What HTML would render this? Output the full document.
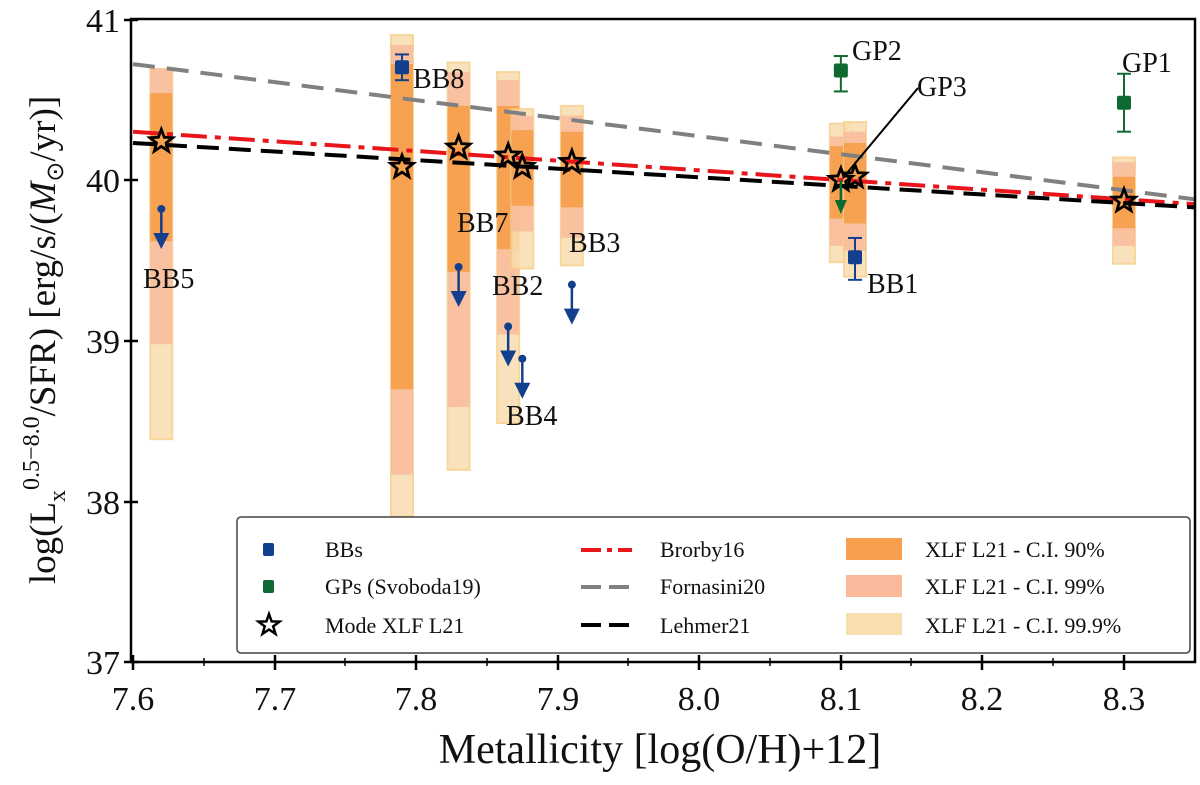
<!DOCTYPE html>
<html><head><meta charset="utf-8"><style>
html,body{margin:0;padding:0;background:#fff;}
svg text{font-family:"Liberation Serif",serif;fill:#111;}
</style></head><body>
<svg id="chart" width="1200" height="780" xmlns="http://www.w3.org/2000/svg">
<g id="plot"></g>
</svg>
<script>
const categories=["BB5","BB8","BB7","BB2","BB4","BB3","GP3","BB1","GP1"];
const metallicity=[7.62,7.79,7.83,7.865,7.875,7.91,8.10,8.11,8.30];
const ci999Low=[38.39,37.91,38.20,38.49,39.45,39.47,39.49,39.40,39.48];
const ci999High=[40.69,40.90,40.73,40.67,40.44,40.46,40.35,40.36,40.14];
const ci99Low=[38.98,38.17,38.59,39.04,39.68,39.64,39.59,39.56,39.59];
const ci99High=[40.69,40.84,40.67,40.62,40.40,40.40,40.27,40.30,40.11];
const ci90Low=[39.62,38.70,39.43,39.57,39.84,39.83,39.76,39.73,39.70];
const ci90High=[40.54,40.72,40.46,40.46,40.31,40.30,40.21,40.23,40.02];
const modeValues=[40.24,40.08,40.20,40.15,40.08,40.11,40.00,40.02,39.87];
const bbDetX=[7.79,8.11];const bbDetY=[40.70,39.52];const bbDetLo=[40.62,39.38];const bbDetHi=[40.78,39.64];
const gpX=[8.10,8.30];const gpY=[40.68,40.48];const gpLo=[40.55,40.30];const gpHi=[40.77,40.66];
const ulX=[7.62,7.83,7.865,7.875,7.91];const ulY=[39.82,39.46,39.09,38.89,39.35];
const gpUlX=[8.10];const gpUlY=[40.0];
const lineX=[7.6,8.35];
const brorbyY=[40.30,39.85];const fornasiniY=[40.72,39.88];const lehmerY=[40.23,39.83];
const xTicks=[7.6,7.7,7.8,7.9,8.0,8.1,8.2,8.3];
const xTickLabels=["7.6","7.7","7.8","7.9","8.0","8.1","8.2","8.3"];
const yTicks=[37,38,39,40,41];

const X=v=>133+(v-7.6)*1415.7;
const Y=v=>180-(v-40)*161;
const NS="http://www.w3.org/2000/svg";
const plot=document.getElementById('plot');
function mk(tag,attrs,parent){const e=document.createElementNS(NS,tag);for(const k in attrs)e.setAttribute(k,attrs[k]);(parent||plot).appendChild(e);return e;}

const bw=22;
for(let i=0;i<categories.length;i++){
 const x=X(metallicity[i])-bw/2;
 let r=mk('rect',{x:x,y:Y(ci999High[i]),width:bw,height:Y(ci999Low[i])-Y(ci999High[i]),fill:'#f9deb0',stroke:'#f7cf8a','stroke-width':2,opacity:0.85});
 
 
 r=mk('rect',{x:x,y:Y(ci99High[i]),width:bw,height:Y(ci99Low[i])-Y(ci99High[i]),fill:'#f9b99a',opacity:0.8});
 
 
 r=mk('rect',{x:x,y:Y(ci90High[i]),width:bw,height:Y(ci90Low[i])-Y(ci90High[i]),fill:'#f6a04d',opacity:0.95});
 
 
}
function ln(ys,color,dash,name){const l=mk('line',{x1:X(lineX[0]),y1:Y(ys[0]),x2:X(lineX[1]),y2:Y(ys[1]),stroke:color,'stroke-width':4,'stroke-dasharray':dash});
 
 }
ln(fornasiniY,'#808080','22 12','fornasini20-line');
ln(brorbyY,'#e8161b','26 8 6 8','brorby16-line');
ln(lehmerY,'#000','22 10','lehmer21-line');

function starPath(cx,cy,r){let d='';for(let k=0;k<10;k++){const a=-Math.PI/2+k*Math.PI/5;const rr=k%2?r*0.42:r;d+=(k?'L':'M')+(cx+rr*Math.cos(a)).toFixed(1)+' '+(cy+rr*Math.sin(a)).toFixed(1);}return d+'Z';}
for(let i=0;i<categories.length;i++){
 const s=mk('path',{d:starPath(X(metallicity[i]),Y(modeValues[i]),12),fill:'none',stroke:'#000','stroke-width':2.8,'stroke-linejoin':'miter'});
 
 
}
function errPoint(x,y,lo,hi,color,name){
 const g=mk('g',{});
 
 
 const cx=X(x);
 mk('line',{x1:cx,y1:Y(hi),x2:cx,y2:Y(lo),stroke:color,'stroke-width':2},g);
 mk('line',{x1:cx-7,y1:Y(hi),x2:cx+7,y2:Y(hi),stroke:color,'stroke-width':2},g);
 mk('line',{x1:cx-7,y1:Y(lo),x2:cx+7,y2:Y(lo),stroke:color,'stroke-width':2},g);
 mk('rect',{x:cx-7,y:Y(y)-7,width:14,height:14,rx:2,fill:color},g);
}
for(let i=0;i<bbDetX.length;i++)errPoint(bbDetX[i],bbDetY[i],bbDetLo[i],bbDetHi[i],'#133f8f','bb-point-'+i);
for(let i=0;i<gpX.length;i++)errPoint(gpX[i],gpY[i],gpLo[i],gpHi[i],'#0e6a32','gp-point-'+i);
function arrow(x,y,color,name){
 const g=mk('g',{});
 
 
 const cx=X(x),cy=Y(y);
 mk('circle',{cx:cx,cy:cy,r:4,fill:color},g);
 mk('line',{x1:cx,y1:cy,x2:cx,y2:cy+26,stroke:color,'stroke-width':2.5},g);
 mk('path',{d:`M${cx-8} ${cy+24}L${cx+8} ${cy+24}L${cx} ${cy+40}Z`,fill:color},g);
}
for(let i=0;i<ulX.length;i++)arrow(ulX[i],ulY[i],'#133f8f','bb-upper-limit-'+i);
for(let i=0;i<gpUlX.length;i++){
 const g=mk('g',{});
 
 
 const cx=X(gpUlX[i]),cy=Y(gpUlY[i]);
 mk('line',{x1:cx,y1:cy,x2:cx,y2:cy+22,stroke:'#0e6a32','stroke-width':2.5},g);
 mk('path',{d:`M${cx-6} ${cy+20}L${cx+6} ${cy+20}L${cx} ${cy+34}Z`,fill:'#0e6a32'},g);
}
const gl=mk('line',{x1:X(8.10)+2,y1:Y(40.0)-2,x2:918,y2:88,stroke:'#000','stroke-width':2});



const labelText=["BB8","BB5","BB7","BB2","BB4","BB3","GP2","GP3","GP1","BB1"];
const labelPos=[[413,88],[143,288],[457,232],[492,295],[506,425],[569,252],[852,60],[917,96],[1122,72],[867,293]];
for(let i=0;i<labelText.length;i++){
 const t=mk('text',{x:labelPos[i][0],y:labelPos[i][1],'font-size':28});
 t.textContent=labelText[i];
 
 
}
</script>
<svg width="1200" height="780" style="position:absolute;left:0;top:0" xmlns="http://www.w3.org/2000/svg">
 <rect x="131" y="19" width="1064" height="643" fill="none" stroke="#000" stroke-width="2.5"/>
 <g stroke="#000" stroke-width="2.5">
  <line x1="124" y1="20" x2="138" y2="20"/><line x1="124" y1="180" x2="138" y2="180"/><line x1="124" y1="341" x2="138" y2="341"/><line x1="124" y1="502" x2="138" y2="502"/><line x1="124" y1="662" x2="138" y2="662"/>
 </g>
 <g font-size="34" text-anchor="end">
  <text x="120" y="32">41</text><text x="120" y="192">40</text><text x="120" y="353">39</text><text x="120" y="514">38</text><text x="120" y="674">37</text>
 </g>
 <g stroke="#000">
  <line x1="133" y1="655" x2="133" y2="670" stroke-width="2.5"/><line x1="275" y1="655" x2="275" y2="670" stroke-width="2.5"/><line x1="416" y1="655" x2="416" y2="670" stroke-width="2.5"/><line x1="558" y1="655" x2="558" y2="670" stroke-width="2.5"/><line x1="699" y1="655" x2="699" y2="670" stroke-width="2.5"/><line x1="841" y1="655" x2="841" y2="670" stroke-width="2.5"/><line x1="982" y1="655" x2="982" y2="670" stroke-width="2.5"/><line x1="1124" y1="655" x2="1124" y2="670" stroke-width="2.5"/>
  <line x1="204" y1="658" x2="204" y2="666" stroke-width="1.5"/><line x1="345" y1="658" x2="345" y2="666" stroke-width="1.5"/><line x1="487" y1="658" x2="487" y2="666" stroke-width="1.5"/><line x1="628" y1="658" x2="628" y2="666" stroke-width="1.5"/><line x1="770" y1="658" x2="770" y2="666" stroke-width="1.5"/><line x1="911" y1="658" x2="911" y2="666" stroke-width="1.5"/><line x1="1053" y1="658" x2="1053" y2="666" stroke-width="1.5"/>
 </g>
 <g font-size="34" text-anchor="middle">
  <text x="133" y="710">7.6</text><text x="275" y="710">7.7</text><text x="416" y="710">7.8</text><text x="558" y="710">7.9</text><text x="699" y="710">8.0</text><text x="841" y="710">8.1</text><text x="982" y="710">8.2</text><text x="1124" y="710">8.3</text>
 </g>
 <text x="660" y="763" font-size="42" text-anchor="middle">Metallicity [log(O/H)+12]</text>
 <text transform="translate(55,340) rotate(-90)" font-size="37" text-anchor="middle">log(L<tspan font-size="24" dy="10">x</tspan><tspan font-size="24" dy="-26">0.5−8.0</tspan><tspan dy="16">/SFR) [erg/s/(</tspan><tspan font-style="italic">M</tspan><tspan font-size="24" dy="8">⊙</tspan><tspan dy="-8">/yr)]</tspan></text>
 <g font-size="22">
  <rect x="237" y="517" width="953" height="136" rx="4" fill="#fff" fill-opacity="0.9" stroke="#444" stroke-width="1.5"/>
  <rect x="263" y="543" width="11" height="13" rx="2" fill="#133f8f"/>
  <text x="325" y="557">BBs</text>
  <rect x="263" y="580" width="11" height="13" rx="2" fill="#0e6a32"/>
  <text x="325" y="594">GPs (Svoboda19)</text>
  <path d="M269 614L271.6 621.4L279.5 621.6L273.2 626.4L275.5 633.9L269 629.5L262.5 633.9L264.8 626.4L258.5 621.6L266.4 621.4Z" fill="none" stroke="#000" stroke-width="2.5"/>
  <text x="325" y="633">Mode XLF L21</text>
  <line x1="581" y1="550" x2="632" y2="550" stroke="#e8161b" stroke-width="4" stroke-dasharray="20 6 5 6"/>
  <text x="660" y="557">Brorby16</text>
  <line x1="581" y1="587" x2="632" y2="587" stroke="#808080" stroke-width="4" stroke-dasharray="20 8"/>
  <text x="660" y="594">Fornasini20</text>
  <line x1="581" y1="625" x2="632" y2="625" stroke="#000" stroke-width="4" stroke-dasharray="20 8"/>
  <text x="660" y="633">Lehmer21</text>
  <rect x="846" y="538" width="56" height="22" fill="#f6a04d"/>
  <text x="925" y="557">XLF L21 - C.I. 90%</text>
  <rect x="846" y="575" width="56" height="22" fill="#f9b99a"/>
  <text x="925" y="594">XLF L21 - C.I. 99%</text>
  <rect x="846" y="613" width="56" height="22" fill="#f9deb0"/>
  <text x="925" y="633">XLF L21 - C.I. 99.9%</text>
 </g>
</svg>
</body></html>
